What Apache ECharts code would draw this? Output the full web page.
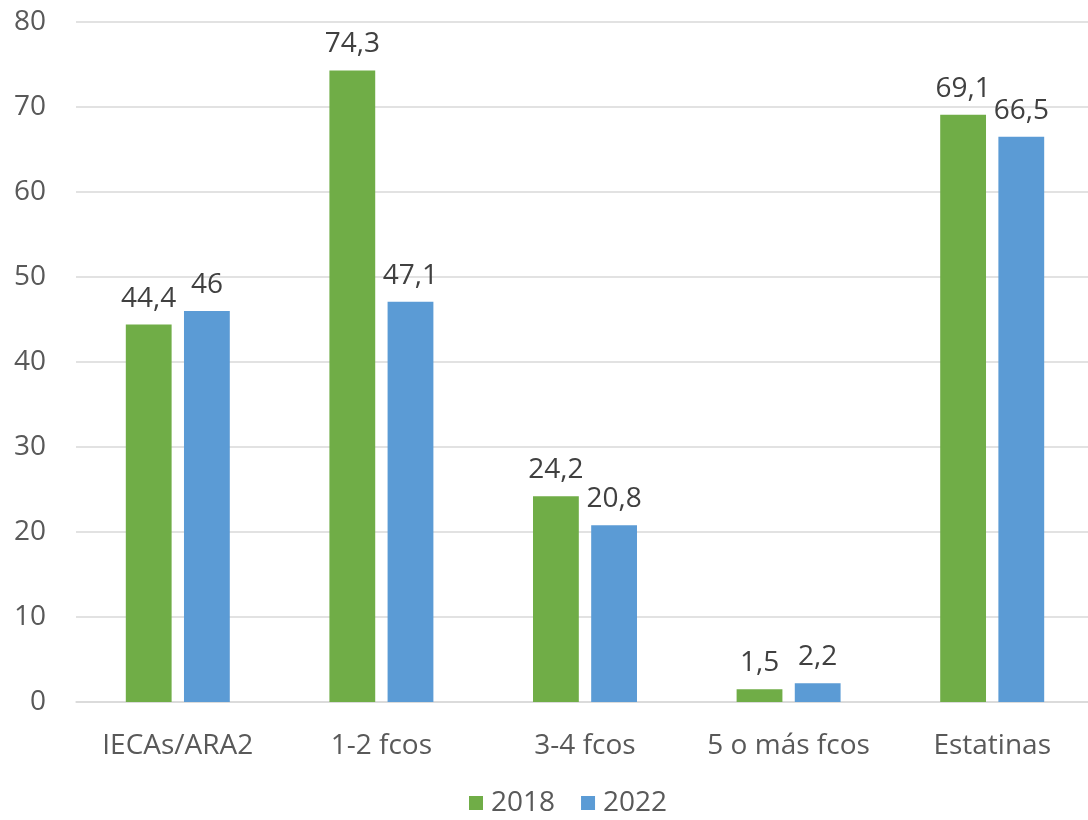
<!DOCTYPE html>
<html>
<head>
<meta charset="utf-8">
<script src="https://cdn.jsdelivr.net/npm/echarts@6/dist/echarts.min.js"></script>
<style>
  html, body { margin: 0; padding: 0; background: #fff; }
  #chart { width: 1088px; height: 820px; }
</style>
</head>
<body>
<div id="chart"></div>
<script>
var categories = ['IECAs/ARA2', '1-2 fcos', '3-4 fcos', '5 o más fcos', 'Estatinas'];
var values2018 = [44.4, 74.3, 24.2, 1.5, 69.1];
var values2022 = [46, 47.1, 20.8, 2.2, 66.5];
var yTicks = [0, 10, 20, 30, 40, 50, 60, 70, 80];

var fontFamily = '"Open Sans", sans-serif';

// decimal comma like the original
var fmt = function (p) {
  return String(p.value).replace('.', ',');
};

var labelStyle = {
  show: true,
  position: 'top',
  distance: 12,
  formatter: fmt,
  color: '#404040',
  fontSize: 28,
  fontFamily: fontFamily
};

var myChart = echarts.init(document.getElementById('chart'));
myChart.setOption({
  animation: false,
  // plot runs slightly past the right edge, as in the original
  grid: { left: 76, right: -6, top: 22, bottom: 118, outerBoundsMode: 'none' },
  legend: {
    bottom: -2,
    left: 464,
    itemWidth: 14,
    itemHeight: 14,
    itemGap: 26,
    icon: 'rect',
    textStyle: { color: '#595959', fontSize: 28, fontFamily: fontFamily, padding: [0, 0, 0, 3] },
    data: ['2018', '2022']
  },
  xAxis: {
    type: 'category',
    data: categories,
    axisTick: { show: false },
    axisLine: { lineStyle: { color: '#d9d9d9', width: 1.5 } },
    axisLabel: { interval: 0, color: '#595959', fontSize: 28, fontFamily: fontFamily, margin: 30 }
  },
  yAxis: {
    type: 'value',
    min: yTicks[0],
    max: yTicks[yTicks.length - 1],
    interval: 10,
    axisLine: { show: false },
    axisTick: { show: false },
    splitLine: { lineStyle: { color: '#d9d9d9', width: 1.5 } },
    axisLabel: { color: '#595959', fontSize: 28, fontFamily: fontFamily, margin: 30 }
  },
  series: [
    {
      name: '2018',
      type: 'bar',
      data: values2018,
      barWidth: '22.5%',
      barGap: '27%',
      itemStyle: { color: '#70AD47' },
      label: labelStyle
    },
    {
      name: '2022',
      type: 'bar',
      data: values2022,
      barWidth: '22.5%',
      itemStyle: { color: '#5B9BD5' },
      label: labelStyle
    }
  ]
});
</script>
</body>
</html>
